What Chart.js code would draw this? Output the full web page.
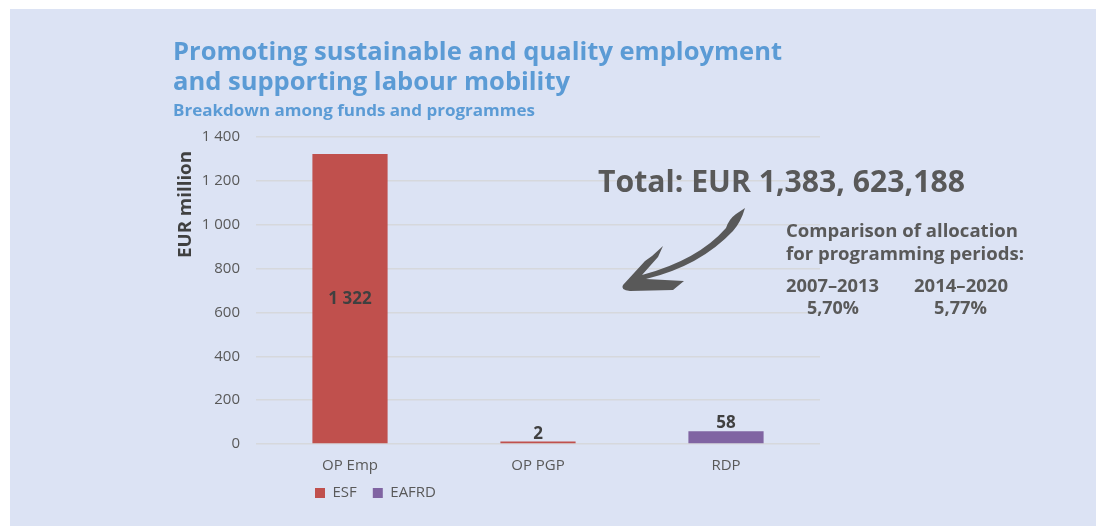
<!DOCTYPE html>
<html><head><meta charset="utf-8">
<script src="https://cdn.jsdelivr.net/npm/chart.js@4.4.1/dist/chart.umd.min.js"></script>
<style>
html,body{margin:0;padding:0;background:#fff;width:1096px;height:526px;overflow:hidden}
#panel{position:absolute;left:10px;top:9px;right:0;bottom:0;background:#DCE3F4}
#wrap{position:absolute;left:0;top:0;width:1096px;height:526px}
</style></head><body>
<div id="panel"></div>
<div id="wrap"><canvas id="c" width="1096" height="526"></canvas></div>
<script>
// ---- data ----
const categories = ['OP Emp', 'OP PGP', 'RDP'];
const seriesNames = ['ESF', 'EAFRD'];
const esfValues = [1322, 2, null];
const eafrdValues = [null, null, 58];
const yTickValues = [0, 200, 400, 600, 800, 1000, 1200, 1400];
const titleLines = ['Promoting sustainable and quality employment', 'and supporting labour mobility'];
const subtitleText = 'Breakdown among funds and programmes';
const yAxisTitle = 'EUR million';
const totalText = 'Total: EUR 1,383, 623,188';
const comparisonLines = ['Comparison of allocation', 'for programming periods:'];
const periods = ['2007–2013', '2014–2020'];
const periodShares = ['5,70%', '5,77%'];

// ---- style ----
const FONT = "'Open Sans', 'Noto Sans', sans-serif";
const GREY = '#595959';
const DARK = '#404040';
const BLUE = '#5B9BD5';
const fmt = v => String(v).replace(/\B(?=(\d{3})+(?!\d))/g, ' ');

function fitText(ctx, s, x, y, size, w, color, align) {
  ctx.save();
  ctx.font = `bold ${size}px ${FONT}`;
  const m = ctx.measureText(s).width;
  const k = w / m;
  ctx.translate(x, y);
  ctx.scale(k, 1);
  ctx.fillStyle = color;
  ctx.textBaseline = 'alphabetic';
  ctx.textAlign = align || 'left';
  ctx.fillText(s, 0, 0);
  ctx.restore();
}

const decor = {
  id: 'decor',
  afterLayout(chart) {
    const lg = chart.legend;
    if (lg) {
      const p = lg.options.labels.padding;
      lg.left = 315 - p;
      lg.top = 493 - 7.5 - p;
    }
  },
  afterDraw(chart) {
    const ctx = chart.ctx;
    // titles
    fitText(ctx, titleLines[0], 173, 60, 25, 609, BLUE);
    fitText(ctx, titleLines[1], 173, 90, 25, 397, BLUE);
    fitText(ctx, subtitleText, 173, 116, 16, 362, BLUE);
    // y axis title (rotated)
    ctx.save();
    ctx.translate(191, 258);
    ctx.rotate(-Math.PI / 2);
    fitText(ctx, yAxisTitle, 0, 0, 17, 107, DARK);
    ctx.restore();
    // annotation texts
    fitText(ctx, totalText, 598, 192, 31, 367, GREY);
    fitText(ctx, comparisonLines[0], 786, 237, 17.5, 232, GREY);
    fitText(ctx, comparisonLines[1], 786, 260, 17.5, 238, GREY);
    fitText(ctx, periods[0], 786, 292, 17.5, 93, GREY);
    fitText(ctx, periods[1], 914, 292, 17.5, 94, GREY);
    fitText(ctx, periodShares[0], 807, 314, 17.5, 52, GREY);
    fitText(ctx, periodShares[1], 934, 314, 17.5, 53, GREY);
    // swoosh arrow
    ctx.save();
    ctx.fillStyle = GREY;
    ctx.beginPath();
    ctx.moveTo(745, 208);
    ctx.quadraticCurveTo(741, 222, 733, 231);
    ctx.quadraticCurveTo(700, 266, 646, 279);
    ctx.lineTo(684, 281);
    ctx.lineTo(673, 290);
    ctx.lineTo(630, 291);
    ctx.quadraticCurveTo(620, 290, 623, 285);
    ctx.lineTo(645, 261);
    ctx.lineTo(652, 256);
    ctx.lineTo(663, 246);
    ctx.lineTo(658, 257);
    ctx.lineTo(642, 275);
    ctx.quadraticCurveTo(698, 260, 726, 228);
    ctx.quadraticCurveTo(729, 219, 736, 214);
    ctx.closePath();
    ctx.fill();
    ctx.restore();
  },
  afterDatasetsDraw(chart) {
    const ctx = chart.ctx;
    ctx.save();
    ctx.font = `bold 17px ${FONT}`;
    ctx.fillStyle = DARK;
    ctx.textAlign = 'center';
    chart.data.datasets.forEach((ds, di) => {
      const meta = chart.getDatasetMeta(di);
      meta.data.forEach((el, i) => {
        const v = ds.data[i];
        if (v === null || v === undefined) return;
        const top = Math.min(el.y, el.base);
        const h = Math.abs(el.base - el.y);
        if (h > 40) {
          ctx.textBaseline = 'middle';
          ctx.fillText(fmt(v), el.x, top + h / 2);
        } else {
          ctx.textBaseline = 'alphabetic';
          ctx.fillText(fmt(v), el.x, top - 3);
        }
      });
    });
    ctx.restore();
  }
};

Chart.defaults.font.family = FONT;

new Chart(document.getElementById('c'), {
  type: 'bar',
  data: {
    labels: categories,
    datasets: [
      { label: seriesNames[0], data: esfValues, backgroundColor: '#C0504D', minBarLength: 2.5 },
      { label: seriesNames[1], data: eafrdValues, backgroundColor: '#8064A2', minBarLength: 2.5 }
    ]
  },
  options: {
    responsive: false,
    animation: false,
    layout: { padding: { left: 170, right: 276, top: 137, bottom: 8 } },
    datasets: { bar: { barPercentage: 0.4, categoryPercentage: 1 } },
    plugins: {
      legend: {
        position: 'bottom',
        align: 'start',
        labels: { boxWidth: 10, boxHeight: 10, padding: 16, color: GREY, font: { size: 15, family: FONT } }
      },
      tooltip: { enabled: false },
      title: { display: false }
    },
    scales: {
      x: {
        stacked: true,
        grid: { display: false, drawTicks: false },
        border: { display: false },
        ticks: { color: GREY, font: { size: 15 }, padding: 13 },
        afterFit: s => { s.height = 33; }
      },
      y: {
        stacked: true,
        min: 0, max: 1400,
        afterBuildTicks: s => { s.ticks = yTickValues.map(v => ({ value: v })); },
        grid: { color: '#D6D8DC', lineWidth: 1.5, drawTicks: false },
        border: { display: false },
        ticks: { color: GREY, font: { size: 15 }, padding: 16, callback: v => fmt(v) },
        afterFit: s => { s.width = 86; }
      }
    }
  },
  plugins: [decor]
});
</script>
</body></html>
